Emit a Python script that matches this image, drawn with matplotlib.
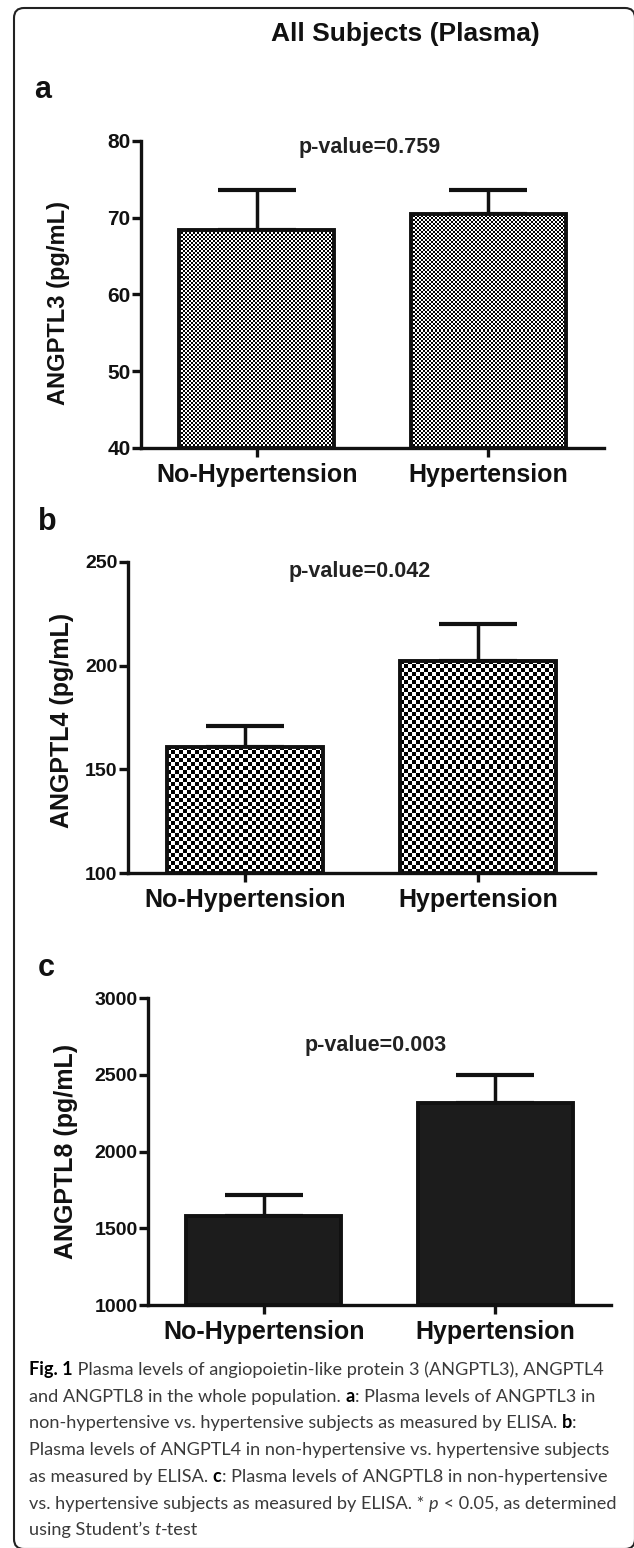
import numpy as np
import matplotlib
matplotlib.use('Agg')
import matplotlib.pyplot as plt
from matplotlib.patches import FancyBboxPatch

groups = ['No-Hypertension', 'Hypertension']

angptl3_mean = [68.4, 70.5]
angptl3_sem = [5.2, 3.1]
angptl4_mean = [160.9, 202.4]
angptl4_sem = [10.0, 17.6]
angptl8_mean = [1580, 2314]
angptl8_sem = [136, 184]

p_values = ['0.759', '0.042', '0.003']
y_titles = ['ANGPTL3 (pg/mL)', 'ANGPTL4 (pg/mL)', 'ANGPTL8 (pg/mL)']
y_ticks = [[40, 50, 60, 70, 80], [100, 150, 200, 250], [1000, 1500, 2000, 2500, 3000]]

caption = [
    [('Fig. 1', 'b'), (' Plasma levels of angiopoietin-like protein 3 (ANGPTL3), ANGPTL4', 'n')],
    [('and ANGPTL8 in the whole population. ', 'n'), ('a', 'b'), (': Plasma levels of ANGPTL3 in', 'n')],
    [('non-hypertensive vs. hypertensive subjects as measured by ELISA. ', 'n'), ('b', 'b'), (':', 'n')],
    [('Plasma levels of ANGPTL4 in non-hypertensive vs. hypertensive subjects', 'n')],
    [('as measured by ELISA. ', 'n'), ('c', 'b'), (': Plasma levels of ANGPTL8 in non-hypertensive', 'n')],
    [('vs. hypertensive subjects as measured by ELISA. * ', 'n'), ('p', 'i'), (' < 0.05, as determined', 'n')],
    [('using Student\u2019s ', 'n'), ('t', 'i'), ('-test', 'n')],
]

W, H = 634, 1548
fig = plt.figure(figsize=(W / 100, H / 100), dpi=100)
fig.patch.set_facecolor('white')

# pixel layer for frame, headings and caption
bg = fig.add_axes([0, 0, 1, 1], zorder=0)
bg.set_xlim(0, W)
bg.set_ylim(H, 0)
bg.axis('off')

BOLD = dict(family='Liberation Sans', weight='bold')
INK = '#111111'


def panel(left, top, right, bottom):
    ax = fig.add_axes([left / W, 1 - bottom / H, (right - left) / W, (bottom - top) / H], zorder=1)
    ax.set_facecolor('none')
    return ax


def draw(ax, means, sems, ticks, cell=None, face='none', tick_fs=14):
    x = np.arange(len(groups))
    lo = ticks[0]
    ax.errorbar(x, means, yerr=[np.zeros(len(x)), sems], fmt='none', ecolor=INK,
                elinewidth=2.5, capsize=28, capthick=3.0, zorder=1)
    bars = ax.bar(x, np.array(means) - lo, bottom=lo, width=0.67, facecolor=face,
                  edgecolor=INK, linewidth=2.8, zorder=3)
    ax.set_xlim(-0.5, 1.5)
    ax.set_ylim(lo, ticks[-1])
    if cell:
        for b in bars:
            ext = b.get_window_extent()
            nx = max(1, int(round(ext.width / cell)))
            ny = max(1, int(round(ext.height / cell)))
            board = np.indices((ny, nx)).sum(axis=0) % 2
            im = ax.imshow(board, cmap='gray', vmin=0, vmax=1, interpolation='nearest',
                           aspect='auto', zorder=2,
                           extent=(b.get_x(), b.get_x() + b.get_width(),
                                   b.get_y(), b.get_y() + b.get_height()))
            im.set_clip_path(b)
        ax.set_xlim(-0.5, 1.5)
        ax.set_ylim(lo, ticks[-1])
    for s in ['top', 'right']:
        ax.spines[s].set_visible(False)
    for s in ['left', 'bottom']:
        ax.spines[s].set_linewidth(2.4)
        ax.spines[s].set_color(INK)
    ax.set_yticks(ticks)
    ax.set_yticklabels([str(t) for t in ticks], fontsize=tick_fs, color=INK, **BOLD)
    ax.set_xticks(x)
    ax.set_xticklabels(groups, fontsize=18, color=INK, **BOLD)
    ax.tick_params(axis='both', length=6.5, width=2.4, color=INK)
    ax.tick_params(axis='y', pad=1)
    ax.tick_params(axis='x', pad=4)


ax_a = panel(141, 141, 604, 448)
draw(ax_a, angptl3_mean, angptl3_sem, y_ticks[0], cell=2, tick_fs=15)
ax_b = panel(128, 562, 595, 873)
draw(ax_b, angptl4_mean, angptl4_sem, y_ticks[1], cell=4)
ax_c = panel(148, 998, 611, 1305)
draw(ax_c, angptl8_mean, angptl8_sem, y_ticks[2], face='#1c1c1c')

# frame
bg.add_patch(FancyBboxPatch((14, 8), 635 - 14, 1549 - 8, boxstyle='round,pad=0,rounding_size=10',
                            fill=False, lw=1.5, ec='#222222', clip_on=False))

bg.text(405, 34, 'All Subjects (Plasma)', fontsize=19, ha='center', va='center', color=INK, **BOLD)

for letter, (lx, ly) in zip('abc', [(34, 90), (38, 522), (38, 968)]):
    bg.text(lx, ly, letter, fontsize=22, ha='left', va='center', color=INK, **BOLD)

for p, (px, py) in zip(p_values, [(370, 148), (360, 572), (376, 1045)]):
    bg.text(px, py, 'p-value=' + p, fontsize=15.5, ha='center', va='center', color='#222222', **BOLD)

for title, (tx, ty), fs in zip(y_titles, [(58, 303), (62, 720), (66, 1151)], [17, 18, 18]):
    bg.text(tx, ty, title, fontsize=fs, rotation=90, ha='center', va='center', color=INK, **BOLD)

# caption, piece by piece
renderer = fig.canvas.get_renderer()


def props(style, size):
    d = dict(family='Lato', fontsize=size, color='#3a3a3a')
    if style == 'b':
        d.update(weight='bold', color='black')
    if style == 'i':
        d.update(style='italic')
    return d


def width(txt, style, size):
    t1 = bg.text(0, 0, 'x' + txt + 'x', **props(style, size))
    t2 = bg.text(0, 0, 'xx', **props(style, size))
    w = t1.get_window_extent(renderer).width - t2.get_window_extent(renderer).width
    t1.remove()
    t2.remove()
    return w


cap_fs = 13 * 578 / width(caption[3][0][0], 'n', 13)
for i, line in enumerate(caption):
    x = 29
    y = 1375 + i * 26.7
    for txt, style in line:
        bg.text(x, y, txt, ha='left', va='baseline', **props(style, cap_fs))
        x += width(txt, style, cap_fs)

fig.savefig('out.png', dpi=100)
